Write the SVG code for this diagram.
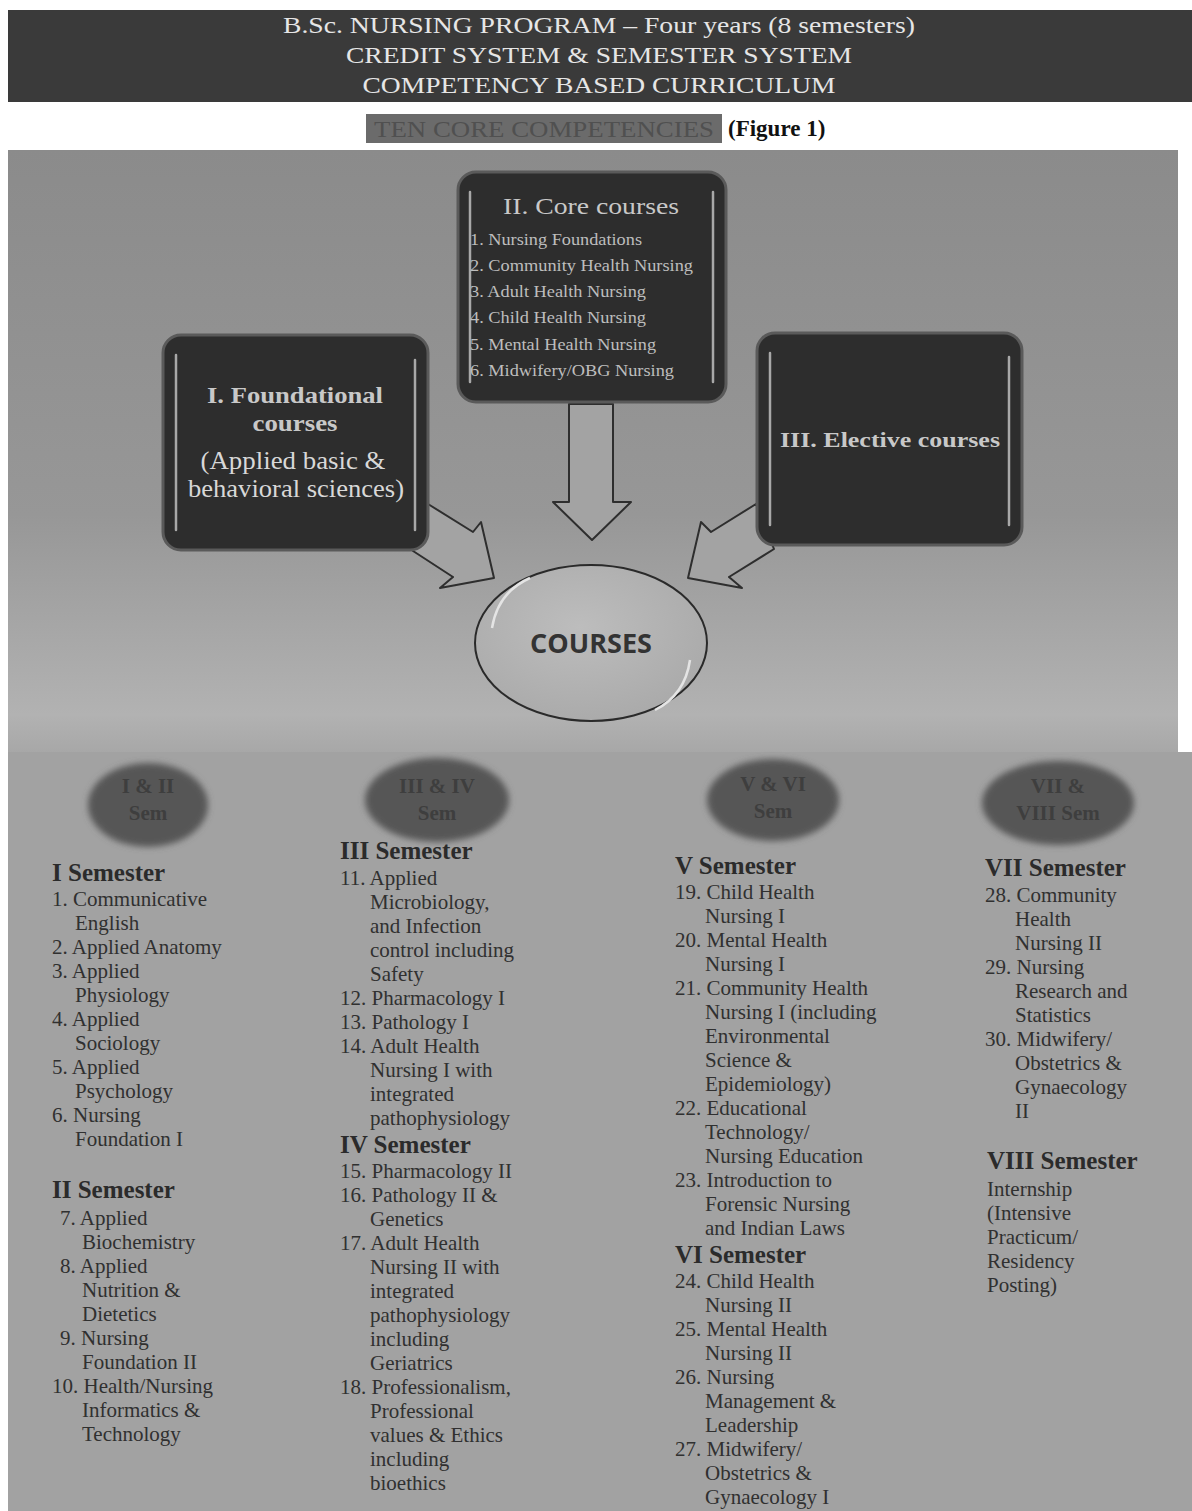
<svg xmlns="http://www.w3.org/2000/svg" width="1192" height="1511" viewBox="0 0 1192 1511">
<defs>
<linearGradient id="topbg" x1="0" y1="0" x2="0" y2="1">
<stop offset="0" stop-color="#8b8b8b"/>
<stop offset="0.6" stop-color="#979797"/>
<stop offset="0.93" stop-color="#b2b2b2"/>
<stop offset="1" stop-color="#a6a6a6"/>
</linearGradient>
<radialGradient id="ellfill" cx="0.45" cy="0.4" r="0.65">
<stop offset="0" stop-color="#bdbdbd"/>
<stop offset="1" stop-color="#a9a9a9"/>
</radialGradient>
<filter id="blur" x="-20%" y="-20%" width="140%" height="140%"><feGaussianBlur stdDeviation="3"/></filter>
<style>
.hdr{font-family:"Liberation Serif","Times New Roman",serif;font-size:24px;fill:#e6e6e6;text-anchor:middle}
.box{fill:#2d2d2d;stroke:#5a5a5a;stroke-width:3}
.hl{stroke:#a8a8a8;stroke-width:2.5;stroke-linecap:round}
.btitle{font-family:"Liberation Serif","Times New Roman",serif;font-weight:bold;fill:#c8c8c8;text-anchor:middle}
.ctitle{font-family:"Liberation Serif","Times New Roman",serif;font-weight:normal;fill:#c8c8c8;text-anchor:middle}
.breg{font-family:"Liberation Serif","Times New Roman",serif;fill:#d8d8d8;text-anchor:middle}
.bitem{font-family:"Liberation Serif","Times New Roman",serif;font-size:17.5px;fill:#bdbdbd}
.arrow{fill:#a3a3a3;stroke:#2e2e2e;stroke-width:2;stroke-linejoin:round}
.sem{fill:#575757}
.semt{font-family:"Liberation Serif","Times New Roman",serif;font-weight:bold;font-size:21px;fill:#3e3e3e;text-anchor:middle}
.sh{font-family:"Liberation Serif","Times New Roman",serif;font-weight:bold;font-size:25px;fill:#2b2b2b}
.it{font-family:"Liberation Serif","Times New Roman",serif;font-size:21px;fill:#303030}
</style>
</defs>
<rect x="0" y="0" width="1192" height="1511" fill="#ffffff"/>
<rect x="8" y="150" width="1170" height="607" fill="url(#topbg)"/>
<rect x="8" y="752" width="1184" height="759" fill="#a2a2a2"/>
<g id="header">
<rect x="8" y="10" width="1184" height="92" fill="#3a3a3a"/>
<text class="hdr" x="599" y="33" textLength="632" lengthAdjust="spacingAndGlyphs">B.Sc. NURSING PROGRAM – Four years (8 semesters)</text>
<text class="hdr" x="599" y="63" textLength="506" lengthAdjust="spacingAndGlyphs">CREDIT SYSTEM &amp; SEMESTER SYSTEM</text>
<text class="hdr" x="599" y="93" textLength="473" lengthAdjust="spacingAndGlyphs">COMPETENCY BASED CURRICULUM</text>
</g>
<g id="subtitle">
<rect x="366" y="114" width="356" height="29" fill="#6b6b6b"/>
<text x="544" y="137" font-family="Liberation Serif, serif" font-size="24" fill="#505050" text-anchor="middle" textLength="340" lengthAdjust="spacingAndGlyphs">TEN CORE COMPETENCIES</text>
<text x="728" y="136" font-family="Liberation Serif, serif" font-weight="bold" font-size="23" fill="#111">(Figure 1)</text>
</g>
<g id="connectors">
<polygon class="arrow" points="569,404 613,404 613,502 631,502 592,540 553,502 569,502"/>
<polygon class="arrow" points="428,504 473,532 481,522 494,578 440,588 453,577 410,549"/>
<polygon class="arrow" points="756,504 711,532 701,522 688,578 742,588 729,577 774,549"/>
</g>
<g id="node-core">
<rect class="box" x="458" y="172" width="268" height="230" rx="18"/>
<line class="hl" x1="470" y1="192" x2="470" y2="382"/>
<line class="hl" x1="713" y1="192" x2="713" y2="382"/>
<text class="ctitle" x="591" y="214" font-size="24" textLength="176" lengthAdjust="spacingAndGlyphs">II. Core courses</text>
<text class="bitem" x="470" y="245" textLength="172" lengthAdjust="spacingAndGlyphs">1. Nursing Foundations</text>
<text class="bitem" x="470" y="271" textLength="223" lengthAdjust="spacingAndGlyphs">2. Community Health Nursing</text>
<text class="bitem" x="470" y="297" textLength="176" lengthAdjust="spacingAndGlyphs">3. Adult Health Nursing</text>
<text class="bitem" x="470" y="323" textLength="176" lengthAdjust="spacingAndGlyphs">4. Child Health Nursing</text>
<text class="bitem" x="470" y="350" textLength="186" lengthAdjust="spacingAndGlyphs">5. Mental Health Nursing</text>
<text class="bitem" x="470" y="376" textLength="204" lengthAdjust="spacingAndGlyphs">6. Midwifery/OBG Nursing</text>
</g>
<g id="node-foundational">
<rect class="box" x="163" y="335" width="265" height="215" rx="18"/>
<line class="hl" x1="176" y1="355" x2="176" y2="530"/>
<line class="hl" x1="415" y1="360" x2="415" y2="530"/>
<text class="btitle" x="295" y="403" font-size="24" textLength="176" lengthAdjust="spacingAndGlyphs">I. Foundational</text>
<text class="btitle" x="295" y="431" font-size="24" textLength="85" lengthAdjust="spacingAndGlyphs">courses</text>
<text class="breg" x="293" y="469" font-size="25" textLength="185" lengthAdjust="spacingAndGlyphs">(Applied basic &amp;</text>
<text class="breg" x="296" y="497" font-size="25" textLength="216" lengthAdjust="spacingAndGlyphs">behavioral sciences)</text>
</g>
<g id="node-elective">
<rect class="box" x="757" y="333" width="265" height="212" rx="18"/>
<line class="hl" x1="770" y1="353" x2="770" y2="525"/>
<line class="hl" x1="1009" y1="357" x2="1009" y2="525"/>
<text class="btitle" x="890" y="447" font-size="22" textLength="220" lengthAdjust="spacingAndGlyphs">III. Elective courses</text>
</g>
<g id="node-courses">
<ellipse cx="591" cy="643" rx="116" ry="78" fill="url(#ellfill)" stroke="#2a2a2a" stroke-width="2"/>
<path d="M492,628 Q498,592 530,578" fill="none" stroke="#e4e4e4" stroke-width="2.5"/>
<path d="M690,660 Q685,695 655,710" fill="none" stroke="#e4e4e4" stroke-width="2.5"/>
<text x="591" y="653" font-family="Open Sans, Liberation Sans, sans-serif" font-weight="bold" font-size="27" fill="#333" text-anchor="middle">COURSES</text>
</g>
<g id="node-sem12">
<ellipse class="sem" cx="148" cy="805" rx="60" ry="42" filter="url(#blur)"/>
<text class="semt" x="148" y="793">I &amp; II</text>
<text class="semt" x="148" y="820">Sem</text>
</g>
<g id="node-sem34">
<ellipse class="sem" cx="437" cy="800" rx="72" ry="42" filter="url(#blur)"/>
<text class="semt" x="437" y="793">III &amp; IV</text>
<text class="semt" x="437" y="820">Sem</text>
</g>
<g id="node-sem56">
<ellipse class="sem" cx="773" cy="800" rx="66" ry="41" filter="url(#blur)"/>
<text class="semt" x="773" y="791">V &amp; VI</text>
<text class="semt" x="773" y="818">Sem</text>
</g>
<g id="node-sem78">
<ellipse class="sem" cx="1058" cy="803" rx="76" ry="42" filter="url(#blur)"/>
<text class="semt" x="1058" y="793">VII &amp;</text>
<text class="semt" x="1058" y="820">VIII Sem</text>
</g>
<g id="list-sem12">
<text class="sh" x="52" y="881">I Semester</text>
<text class="it" x="52" y="906">1. Communicative</text>
<text class="it" x="75" y="930">English</text>
<text class="it" x="52" y="954">2. Applied Anatomy</text>
<text class="it" x="52" y="978">3. Applied</text>
<text class="it" x="75" y="1002">Physiology</text>
<text class="it" x="52" y="1026">4. Applied</text>
<text class="it" x="75" y="1050">Sociology</text>
<text class="it" x="52" y="1074">5. Applied</text>
<text class="it" x="75" y="1098">Psychology</text>
<text class="it" x="52" y="1122">6. Nursing</text>
<text class="it" x="75" y="1146">Foundation I</text>
<text class="sh" x="52" y="1198">II Semester</text>
<text class="it" x="60" y="1225">7. Applied</text>
<text class="it" x="82" y="1249">Biochemistry</text>
<text class="it" x="60" y="1273">8. Applied</text>
<text class="it" x="82" y="1297">Nutrition &amp;</text>
<text class="it" x="82" y="1321">Dietetics</text>
<text class="it" x="60" y="1345">9. Nursing</text>
<text class="it" x="82" y="1369">Foundation II</text>
<text class="it" x="52" y="1393">10. Health/Nursing</text>
<text class="it" x="82" y="1417">Informatics &amp;</text>
<text class="it" x="82" y="1441">Technology</text>
</g>
<g id="list-sem34">
<text class="sh" x="340" y="859">III Semester</text>
<text class="it" x="340" y="885">11. Applied</text>
<text class="it" x="370" y="909">Microbiology,</text>
<text class="it" x="370" y="933">and Infection</text>
<text class="it" x="370" y="957">control including</text>
<text class="it" x="370" y="981">Safety</text>
<text class="it" x="340" y="1005">12. Pharmacology I</text>
<text class="it" x="340" y="1029">13. Pathology I</text>
<text class="it" x="340" y="1053">14. Adult Health</text>
<text class="it" x="370" y="1077">Nursing I with</text>
<text class="it" x="370" y="1101">integrated</text>
<text class="it" x="370" y="1125">pathophysiology</text>
<text class="sh" x="340" y="1153">IV Semester</text>
<text class="it" x="340" y="1178">15. Pharmacology II</text>
<text class="it" x="340" y="1202">16. Pathology II &amp;</text>
<text class="it" x="370" y="1226">Genetics</text>
<text class="it" x="340" y="1250">17. Adult Health</text>
<text class="it" x="370" y="1274">Nursing II with</text>
<text class="it" x="370" y="1298">integrated</text>
<text class="it" x="370" y="1322">pathophysiology</text>
<text class="it" x="370" y="1346">including</text>
<text class="it" x="370" y="1370">Geriatrics</text>
<text class="it" x="340" y="1394">18. Professionalism,</text>
<text class="it" x="370" y="1418">Professional</text>
<text class="it" x="370" y="1442">values &amp; Ethics</text>
<text class="it" x="370" y="1466">including</text>
<text class="it" x="370" y="1490">bioethics</text>
</g>
<g id="list-sem56">
<text class="sh" x="675" y="874">V Semester</text>
<text class="it" x="675" y="899">19. Child Health</text>
<text class="it" x="705" y="923">Nursing I</text>
<text class="it" x="675" y="947">20. Mental Health</text>
<text class="it" x="705" y="971">Nursing I</text>
<text class="it" x="675" y="995">21. Community Health</text>
<text class="it" x="705" y="1019">Nursing I (including</text>
<text class="it" x="705" y="1043">Environmental</text>
<text class="it" x="705" y="1067">Science &amp;</text>
<text class="it" x="705" y="1091">Epidemiology)</text>
<text class="it" x="675" y="1115">22. Educational</text>
<text class="it" x="705" y="1139">Technology/</text>
<text class="it" x="705" y="1163">Nursing Education</text>
<text class="it" x="675" y="1187">23. Introduction to</text>
<text class="it" x="705" y="1211">Forensic Nursing</text>
<text class="it" x="705" y="1235">and Indian Laws</text>
<text class="sh" x="675" y="1263">VI Semester</text>
<text class="it" x="675" y="1288">24. Child Health</text>
<text class="it" x="705" y="1312">Nursing II</text>
<text class="it" x="675" y="1336">25. Mental Health</text>
<text class="it" x="705" y="1360">Nursing II</text>
<text class="it" x="675" y="1384">26. Nursing</text>
<text class="it" x="705" y="1408">Management &amp;</text>
<text class="it" x="705" y="1432">Leadership</text>
<text class="it" x="675" y="1456">27. Midwifery/</text>
<text class="it" x="705" y="1480">Obstetrics &amp;</text>
<text class="it" x="705" y="1504">Gynaecology I</text>
</g>
<g id="list-sem78">
<text class="sh" x="985" y="876">VII Semester</text>
<text class="it" x="985" y="902">28. Community</text>
<text class="it" x="1015" y="926">Health</text>
<text class="it" x="1015" y="950">Nursing II</text>
<text class="it" x="985" y="974">29. Nursing</text>
<text class="it" x="1015" y="998">Research and</text>
<text class="it" x="1015" y="1022">Statistics</text>
<text class="it" x="985" y="1046">30. Midwifery/</text>
<text class="it" x="1015" y="1070">Obstetrics &amp;</text>
<text class="it" x="1015" y="1094">Gynaecology</text>
<text class="it" x="1015" y="1118">II</text>
<text class="sh" x="987" y="1169">VIII Semester</text>
<text class="it" x="987" y="1196">Internship</text>
<text class="it" x="987" y="1220">(Intensive</text>
<text class="it" x="987" y="1244">Practicum/</text>
<text class="it" x="987" y="1268">Residency</text>
<text class="it" x="987" y="1292">Posting)</text>
</g>
</svg>
